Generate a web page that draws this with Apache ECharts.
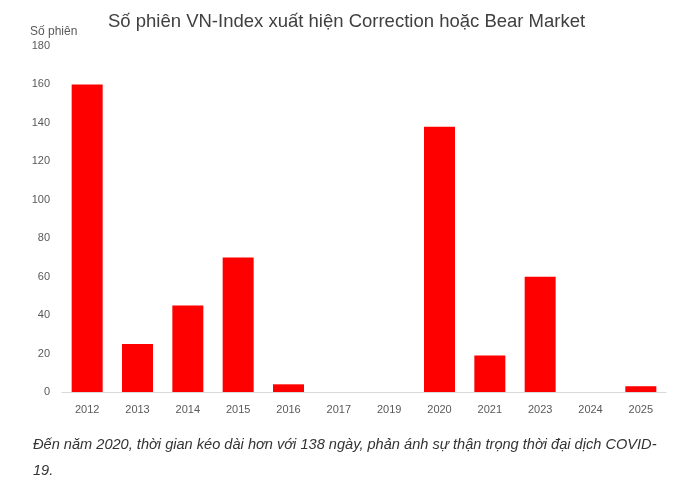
<!DOCTYPE html>
<html>
<head>
<meta charset="utf-8">
<script src="https://cdn.jsdelivr.net/npm/echarts@6/dist/echarts.min.js"></script>
<style>html,body{margin:0;padding:0;background:#fff;}#c{width:699px;height:502px;}</style>
</head>
<body>
<div id="c"></div>
<script>
var categories = ['2012','2013','2014','2015','2016','2017','2019','2020','2021','2023','2024','2025'];
var sessions = [160, 25, 45, 70, 4, 0, 0, 138, 19, 60, 0, 3];
var titleText = 'Số phiên VN-Index xuất hiện Correction hoặc Bear Market';
var yName = 'Số phiên';
var caption = 'Đến năm 2020, thời gian kéo dài hơn với 138 ngày, phản ánh sự thận trọng thời đại dịch COVID-\n19.';

var chart = echarts.init(document.getElementById('c'));
chart.setOption({
  animation: false,
  backgroundColor: '#ffffff',
  title: {
    text: titleText,
    left: 103, top: 7,
    textStyle: {fontFamily: 'Liberation Sans, Arial, sans-serif', fontSize: 18.5, fontWeight: 'normal', color: '#404040'}
  },
  grid: {left: 62, right: 33, top: 46, bottom: 110, containLabel: false},
  xAxis: {
    type: 'category',
    data: categories,
    axisLine: {lineStyle: {color: '#d9d9d9', width: 1}},
    axisTick: {show: false},
    axisLabel: {color: '#595959', fontSize: 11, fontFamily: 'Liberation Sans, Arial, sans-serif', margin: 12}
  },
  yAxis: {
    type: 'value',
    min: 0, max: 180, interval: 20,
    name: yName,
    nameLocation: 'end',
    nameGap: 8,
    nameTextStyle: {align: 'left', padding: [0, 0, 0, -32], color: '#595959', fontSize: 12, fontFamily: 'Liberation Sans, Arial, sans-serif'},
    axisLine: {show: false},
    axisTick: {show: false},
    splitLine: {show: false},
    axisLabel: {color: '#595959', fontSize: 11, fontFamily: 'Liberation Sans, Arial, sans-serif', margin: 12}
  },
  series: [{
    type: 'bar',
    data: sessions,
    barWidth: 31,
    itemStyle: {color: '#ff0000'}
  }],
  graphic: [{
    type: 'text',
    left: 33, top: 432,
    style: {
      text: caption,
      fontFamily: 'Liberation Sans, Arial, sans-serif',
      fontStyle: 'italic',
      fontSize: 14.6,
      lineHeight: 26,
      fill: '#333333'
    }
  }]
});
</script>
</body>
</html>
